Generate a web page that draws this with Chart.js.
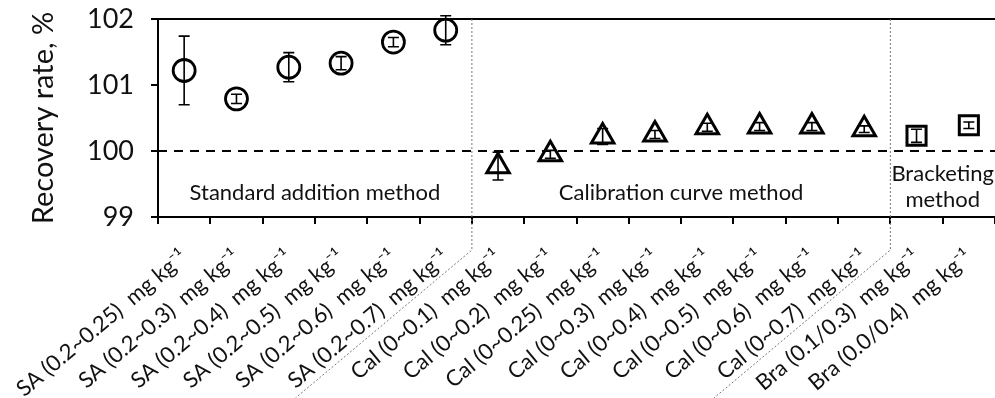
<!DOCTYPE html>
<html lang="en">
<head>
<meta charset="UTF-8">
<title>Recovery rate</title>
<script src="https://cdn.jsdelivr.net/npm/chart.js@4.4.0/dist/chart.umd.min.js"></script>
<style>
  html, body { margin: 0; padding: 0; background: #fff; overflow: hidden; }
  #wrap { width: 995px; height: 398px; }
</style>
</head>
<body>
<div id="wrap"><canvas id="chart" width="995" height="398"></canvas></div>
<script>
// categories (x axis)
const labels = [
  'SA (0.2~0.25)  mg kg⁻¹', 'SA (0.2~0.3)  mg kg⁻¹', 'SA (0.2~0.4)  mg kg⁻¹',
  'SA (0.2~0.5)  mg kg⁻¹', 'SA (0.2~0.6)  mg kg⁻¹', 'SA (0.2~0.7)  mg kg⁻¹',
  'Cal (0~0.1)  mg kg⁻¹', 'Cal (0~0.2)  mg kg⁻¹', 'Cal (0~0.25)  mg kg⁻¹',
  'Cal (0~0.3)  mg kg⁻¹', 'Cal (0~0.4)  mg kg⁻¹', 'Cal (0~0.5)  mg kg⁻¹',
  'Cal (0~0.6)  mg kg⁻¹', 'Cal (0~0.7)  mg kg⁻¹',
  'Bra (0.1/0.3)  mg kg⁻¹', 'Bra (0.0/0.4)  mg kg⁻¹'
];

// recovery rate, % and error (±)
const saValues  = [101.22, 100.79, 101.27, 101.33, 101.65, 101.83];
const saErrors  = [0.52, 0.07, 0.22, 0.10, 0.07, 0.22];
const calValues = [99.77, 99.95, 100.22, 100.25, 100.36, 100.37, 100.37, 100.33];
const calErrors = [0.21, 0.06, 0.12, 0.06, 0.06, 0.06, 0.06, 0.05];
const braValues = [100.23, 100.39];
const braErrors = [0.10, 0.05];

const yTicks = [99, 100, 101, 102];
const referenceLine = 100;

const groupNames = [['Standard addition method'], ['Calibration curve method'], ['Bracketing', 'method']];

const FONT = 'Lato, "Open Sans", sans-serif';
const ROT = 40;

// pad a group's values out to the full category list
function fill(values, start) {
  const out = labels.map(() => null);
  values.forEach((v, i) => { out[start + i] = v; });
  return out;
}
const calStart = saValues.length;
const braStart = calStart + calValues.length;

const series = [
  { values: saValues, errors: saErrors, start: 0, style: 'circle', radius: 11, width: 2.8 },
  { values: calValues, errors: calErrors, start: calStart, style: 'triangle', radius: 13, width: 3 },
  { values: braValues, errors: braErrors, start: braStart, style: 'rect', radius: 13.5, width: 3 }
];
const groupBounds = [[0, calStart - 1], [calStart, braStart - 1], [braStart, labels.length - 1]];

const extras = {
  id: 'extras',
  beforeDatasetsDraw(chart) {
    const { ctx, chartArea: a, scales: { y } } = chart;
    const py = y.getPixelForValue(referenceLine);
    ctx.save();
    ctx.strokeStyle = '#000';
    ctx.lineWidth = 2;
    ctx.setLineDash([9, 7]);
    ctx.beginPath();
    ctx.moveTo(a.left, py);
    ctx.lineTo(a.right, py);
    ctx.stroke();
    ctx.restore();
  },
  afterDatasetsDraw(chart) {
    const { ctx, chartArea: a, scales: { x, y } } = chart;
    ctx.save();
    // error bars
    ctx.strokeStyle = '#000';
    ctx.lineWidth = 1.6;
    series.forEach(s => {
      s.values.forEach((v, i) => {
        const px = x.getPixelForValue(s.start + i);
        const top = y.getPixelForValue(v + s.errors[i]);
        const bot = y.getPixelForValue(v - s.errors[i]);
        ctx.beginPath();
        ctx.moveTo(px, top); ctx.lineTo(px, bot);
        ctx.moveTo(px - 5.5, top); ctx.lineTo(px + 5.5, top);
        ctx.moveTo(px - 5.5, bot); ctx.lineTo(px + 5.5, bot);
        ctx.stroke();
      });
    });
    // top border of the plot box
    ctx.lineWidth = 2;
    ctx.beginPath();
    ctx.moveTo(a.left, a.top);
    ctx.lineTo(a.right, a.top);
    ctx.stroke();

    // group dividers, running on down between the tick labels
    const rad = ROT * Math.PI / 180;
    ctx.strokeStyle = '#777';
    ctx.lineWidth = 1;
    ctx.setLineDash([2, 2]);
    for (let g = 0; g < groupBounds.length - 1; g++) {
      const bx = (x.getPixelForValue(groupBounds[g][1]) + x.getPixelForValue(groupBounds[g + 1][0])) / 2;
      const knee = a.bottom + 33;
      const len = (chart.height - knee) / Math.sin(rad);
      ctx.beginPath();
      ctx.moveTo(bx, a.top);
      ctx.lineTo(bx, knee);
      ctx.lineTo(bx - Math.cos(rad) * len, knee + Math.sin(rad) * len);
      ctx.stroke();
    }
    ctx.setLineDash([]);

    // group names
    ctx.fillStyle = '#111';
    ctx.font = '22px ' + FONT;
    ctx.textAlign = 'center';
    ctx.textBaseline = 'middle';
    groupNames.forEach((lines, g) => {
      const [first, last] = groupBounds[g];
      const left = first === 0 ? a.left : (x.getPixelForValue(first - 1) + x.getPixelForValue(first)) / 2;
      const right = last === labels.length - 1 ? a.right : (x.getPixelForValue(last) + x.getPixelForValue(last + 1)) / 2;
      const cx = (left + right) / 2;
      if (lines.length === 1) {
        ctx.fillText(lines[0], cx, y.getPixelForValue(99.36));
      } else {
        ctx.fillText(lines[0], cx, y.getPixelForValue(99.65));
        ctx.fillText(lines[1], cx, y.getPixelForValue(99.26));
      }
    });
    ctx.restore();
  }
};

new Chart(document.getElementById('chart'), {
  type: 'line',
  data: {
    labels: labels,
    datasets: series.map(s => ({
      data: fill(s.values, s.start),
      showLine: false,
      pointStyle: s.style,
      pointRadius: s.radius,
      pointHoverRadius: s.radius,
      pointBorderWidth: s.width,
      pointBorderColor: '#000',
      pointBackgroundColor: 'rgba(0,0,0,0)',
      borderColor: '#000'
    }))
  },
  options: {
    responsive: false,
    animation: false,
    devicePixelRatio: 1,
    layout: { autoPadding: false, padding: { top: 19, left: 0, right: 0, bottom: 0 } },
    plugins: { legend: { display: false }, tooltip: { enabled: false } },
    scales: {
      x: {
        type: 'category',
        offset: true,
        afterFit: s => { s.height = 181; s.paddingLeft = 0; s.paddingRight = 0; },
        grid: { offset: true, drawOnChartArea: false, drawTicks: true, tickLength: 7, color: '#000', lineWidth: 2 },
        border: { color: '#000', width: 2 },
        ticks: {
          autoSkip: false, minRotation: ROT, maxRotation: ROT, padding: 20,
          color: '#111', font: { family: FONT, size: 22 }
        }
      },
      y: {
        min: 99, max: 102,
        afterFit: s => { s.width = 158; s.paddingTop = 0; s.paddingBottom = 0; },
        afterBuildTicks: s => { s.ticks = yTicks.map(v => ({ value: v })); },
        grid: { drawOnChartArea: false, drawTicks: true, tickLength: 7, color: '#000', lineWidth: 2 },
        border: { color: '#000', width: 2 },
        ticks: { padding: 17, color: '#111', font: { family: FONT, size: 27 } },
        title: {
          display: true, text: 'Recovery rate, %', color: '#111',
          font: { family: FONT, size: 29 }, padding: { top: 26, bottom: 0 }
        }
      }
    }
  },
  plugins: [extras]
});
</script>
</body>
</html>
